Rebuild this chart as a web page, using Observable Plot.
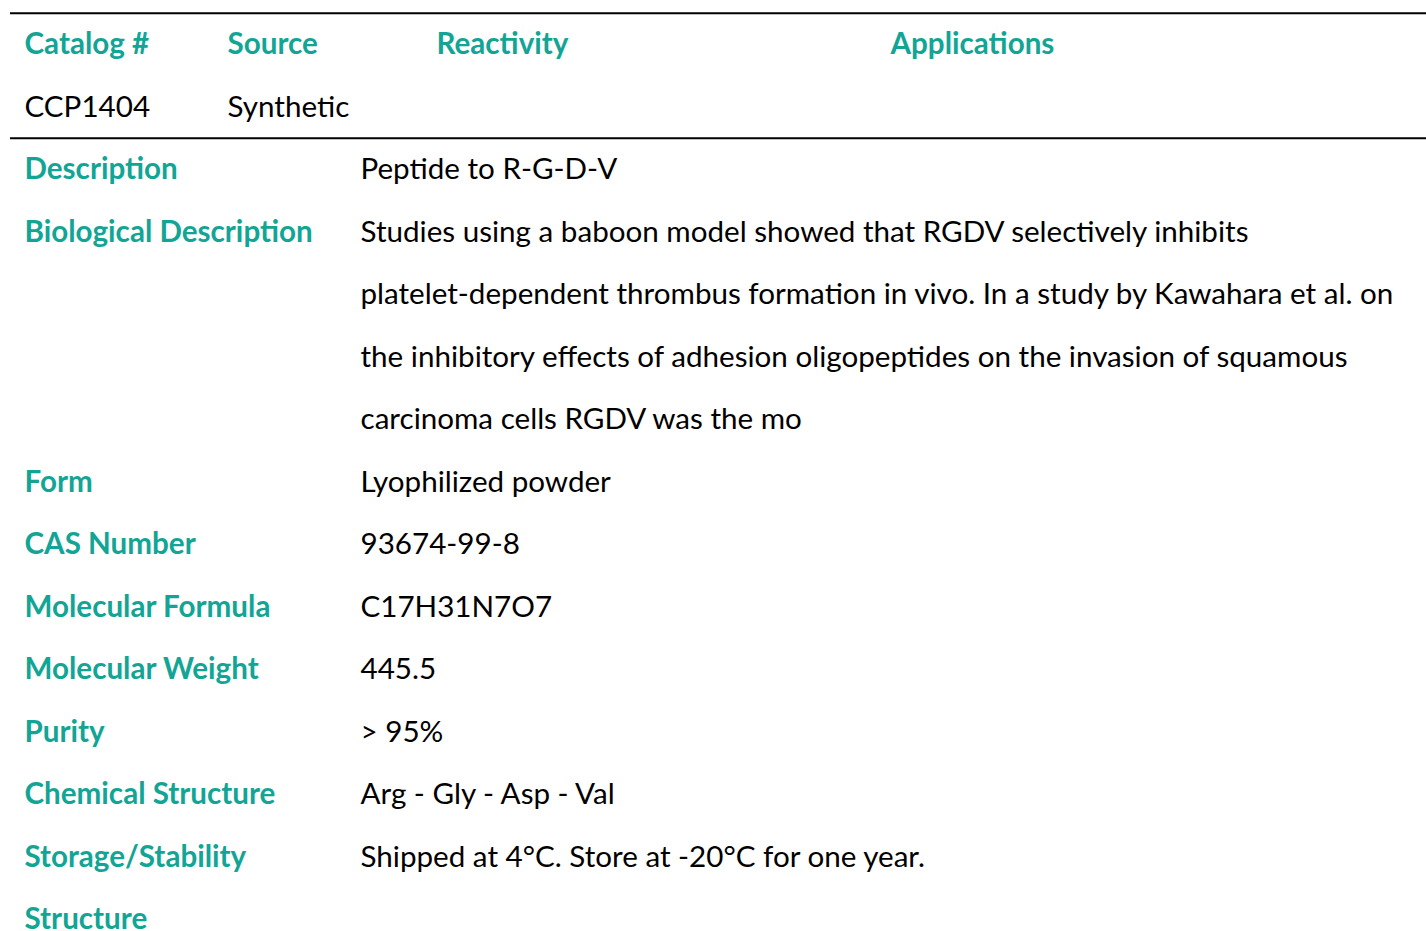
<!DOCTYPE html>
<html>
<head>
<meta charset="utf-8">
<script src="https://cdn.jsdelivr.net/npm/d3@7"></script>
<script src="https://cdn.jsdelivr.net/npm/@observablehq/plot@0.6"></script>
<style>
  html, body { margin: 0; padding: 0; background: #fff; }
  #chart svg { display: block; }
</style>
</head>
<body>
<div id="chart"></div>
<script>
// Header table
const headerLabels = ["Catalog #", "Source", "Reactivity", "Applications"];
const headerValues = ["CCP1404", "Synthetic", "", ""];
const headerCols = ["catalog", "source", "reactivity", "applications"];

// Property rows
const propLabels = ["Description", "Biological Description", "", "", "", "Form", "CAS Number",
  "Molecular Formula", "Molecular Weight", "Purity", "Chemical Structure", "Storage/Stability", "Structure"];
const propValues = ["Peptide to R-G-D-V",
  "Studies using a baboon model showed that RGDV selectively inhibits",
  "platelet-dependent thrombus formation in vivo. In a study by Kawahara et al. on",
  "the inhibitory effects of adhesion oligopeptides on the invasion of squamous",
  "carcinoma cells RGDV was the mo",
  "Lyophilized powder", "93674-99-8", "C17H31N7O7", "445.5", "> 95%",
  "Arg - Gly - Asp - Val", "Shipped at 4°C. Store at -20°C for one year.", ""];

// Row separators (in row units)
const separators = [-0.5, 1.5];

const teal = "#12a595";
const font = "Lato, 'Open Sans', sans-serif";
const fs = 29.6;

const headerData = headerLabels.map((l, i) => ({col: headerCols[i], row: 0, text: l}));
const headerVal = headerValues.map((v, i) => ({col: headerCols[i], row: 1, text: v})).filter(d => d.text);
const propLab = propLabels.map((l, i) => ({col: "catalog", row: i + 2, text: l})).filter(d => d.text);
const propVal = propValues.map((v, i) => ({col: "value", row: i + 2, text: v})).filter(d => d.text);

const colX = d3.scaleOrdinal()
  .domain(["catalog", "source", "value", "reactivity", "applications"])
  .range([24, 227, 360, 436, 890]);

const W = 1426, H = 931;
const chart = Plot.plot({
  width: W, height: H,
  margin: 0,
  x: {domain: [0, W], range: [0, W], axis: null},
  y: {domain: [0, 14], range: [44, 919.5], axis: null},
  style: {fontFamily: font, background: "#fff"},
  marks: [
    Plot.ruleY(separators, {y: d => d, x1: 10, x2: W, stroke: "#000", strokeWidth: 2}),
    Plot.text(headerData, {x: d => colX(d.col), y: "row", text: "text", textAnchor: "start",
      fill: teal, fontWeight: "bold", fontSize: fs, lineAnchor: "middle"}),
    Plot.text(headerVal, {x: d => colX(d.col), y: "row", text: "text", textAnchor: "start",
      fill: "#000", fontSize: fs, lineAnchor: "middle"}),
    Plot.text(propLab, {x: d => colX(d.col), y: "row", text: "text", textAnchor: "start",
      fill: teal, fontWeight: "bold", fontSize: fs, lineAnchor: "middle"}),
    Plot.text(propVal, {x: d => colX(d.col), y: "row", text: "text", textAnchor: "start",
      fill: "#000", fontSize: fs, lineAnchor: "middle"})
  ]
});
document.getElementById("chart").append(chart);
</script>
</body>
</html>
